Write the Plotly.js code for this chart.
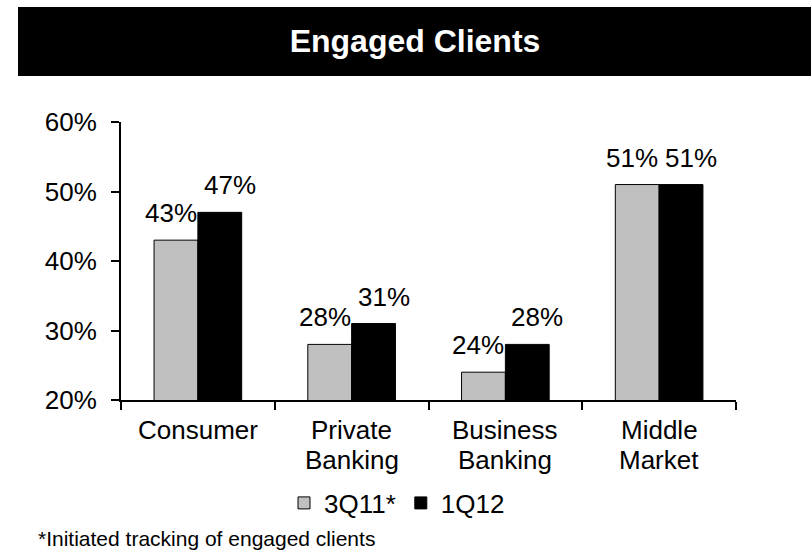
<!DOCTYPE html>
<html><head><meta charset="utf-8">
<script src="https://cdn.plot.ly/plotly-3.0.1.min.js"></script>
<style>html,body{margin:0;padding:0;background:#fff;}#chart{width:811px;height:556px;}</style>
</head><body><div id="chart"></div>
<script>
const categories = ["Consumer", "Private Banking", "Business Banking", "Middle Market"];
const categoryLines = [["Consumer"], ["Private", "Banking"], ["Business", "Banking"], ["Middle", "Market"]];
const series3Q11 = [43, 28, 24, 51];
const series1Q12 = [47, 31, 28, 51];
const seriesNames = ["3Q11*", "1Q12"];
const yTicks = [20, 30, 40, 50, 60];

const font = "Liberation Sans, Arial, sans-serif";
const traces = [
  {type: "bar", name: seriesNames[0], x: categories, y: series3Q11,
   marker: {color: "#c0c0c0", line: {color: "#000", width: 1}}},
  {type: "bar", name: seriesNames[1], x: categories, y: series1Q12,
   marker: {color: "#000000", line: {color: "#000", width: 1}}}
];
const L = 121, R = 736, T = 122, B = 400;
const px = x => (x - L) / (R - L);
const py = y => (B - y) / (B - T);

const annotations = [];
// value labels
[[series3Q11, -27], [series1Q12, 32]].forEach(([vals, xs]) => {
  vals.forEach((v, i) => annotations.push({
    text: v + "%", xref: "x", yref: "y", x: categories[i], y: v,
    xanchor: "center", yanchor: "bottom", xshift: xs, yshift: 10, showarrow: false,
    font: {family: font, size: 26, color: "#000"}}));
});
// category labels (tight line spacing)
categoryLines.forEach((lines, i) => lines.forEach((ln, j) => annotations.push({
  text: ln, xref: "x", yref: "paper", x: categories[i], y: py(430 + 30 * j),
  xanchor: "center", yanchor: "middle", showarrow: false, borderpad: 0,
  font: {family: font, size: 26, color: "#000"}})));
// footnote
annotations.push({text: "*Initiated tracking of engaged clients", xref: "paper", yref: "paper",
  x: px(36), y: py(538), xanchor: "left", yanchor: "middle", showarrow: false,
  font: {family: font, size: 21, color: "#000"}});

const layout = {
  width: 811, height: 556,
  margin: {l: L, r: 811 - R, t: T, b: 556 - B},
  paper_bgcolor: "#fff", plot_bgcolor: "#fff",
  font: {family: font, size: 26, color: "#000"},
  barmode: "group", bargap: 0.43, bargroupgap: 0,
  title: {text: "<b>Engaged Clients</b>", font: {family: font, size: 32, color: "#fff"},
          x: 415 / 811, xanchor: "center", y: 1 - 41 / 556, yanchor: "middle", xref: "container", yref: "container"},
  shapes: [{type: "rect", xref: "paper", yref: "paper", x0: px(18), x1: px(811), y0: py(76), y1: py(7),
            fillcolor: "#000", line: {width: 0}, layer: "below"}],
  xaxis: {type: "category", showline: true, linecolor: "#000", linewidth: 2,
          ticks: "outside", ticklen: 8, tickwidth: 2, tickcolor: "#000", tickson: "boundaries",
          showticklabels: false, showgrid: false, zeroline: false},
  yaxis: {range: [20, 60], tickvals: yTicks, ticktext: yTicks.map(v => v + "%"),
          showline: true, linecolor: "#000", linewidth: 2, ticks: "outside", ticklen: 8, tickwidth: 2, tickcolor: "#000",
          tickfont: {family: font, size: 26, color: "#000"}, showgrid: false, zeroline: false, ticklabelstandoff: 9},
  legend: {orientation: "h", x: px(397), xanchor: "center", y: py(503), yanchor: "middle",
           font: {family: font, size: 26, color: "#000"}, itemwidth: 30, traceorder: "normal"},
  showlegend: true,
  annotations: annotations
};
Plotly.newPlot("chart", traces, layout, {displayModeBar: false, staticPlot: true});
</script></body></html>
